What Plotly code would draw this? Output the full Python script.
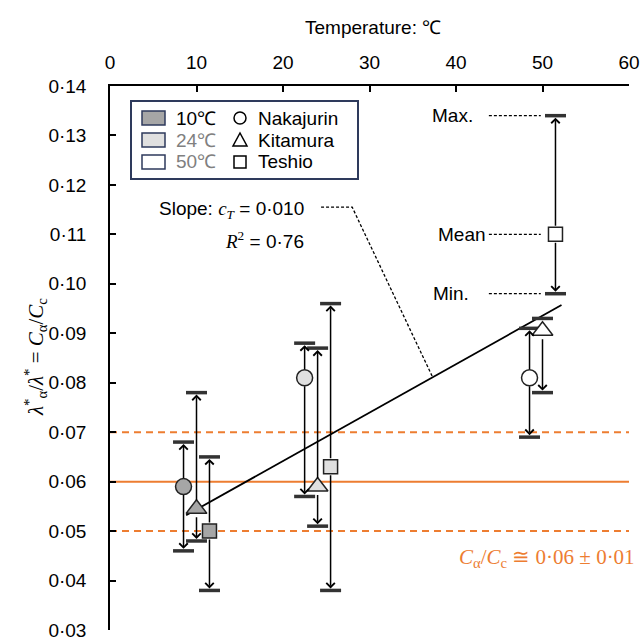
import plotly.graph_objects as go

# ---------------- data ----------------
temps = [10, 24, 50]
sites = ['Nakajurin', 'Kitamura', 'Teshio']
site_offset = [-1.5, 0.0, 1.5]
site_symbol = ['circle', 'triangle-up', 'square']
site_size = [16, 18, 14]

nak_mean = [0.059, 0.081, 0.081]
nak_max = [0.068, 0.088, 0.091]
nak_min = [0.046, 0.057, 0.069]

kit_mean = [0.0545, 0.059, 0.0905]
kit_max = [0.078, 0.087, 0.093]
kit_min = [0.048, 0.051, 0.078]

tes_mean = [0.050, 0.063, 0.110]
tes_max = [0.065, 0.096, 0.134]
tes_min = [0.038, 0.038, 0.098]

temp_fill = ['#A6A6A6', '#E0E0E0', '#FFFFFF']
temp_labels = ['10℃', '24℃', '50℃']
temp_label_colors = ['#000000', '#808080', '#808080']

trend_x = [8.8, 52.2]
trend_y = [0.0532, 0.0957]

ref_center = 0.06
ref_band = 0.01

x_ticks = [0, 10, 20, 30, 40, 50, 60]
y_ticks = [0.03, 0.04, 0.05, 0.06, 0.07, 0.08, 0.09, 0.10, 0.11, 0.12, 0.13, 0.14]
y_ticktext = ['0·03', '0·04', '0·05', '0·06', '0·07', '0·08', '0·09', '0·10',
              '0·11', '0·12', '0·13', '0·14']

means = [nak_mean, kit_mean, tes_mean]
maxs = [nak_max, kit_max, tes_max]
mins = [nak_min, kit_min, tes_min]

# ---------------- layout helpers ----------------
W, H = 641, 637
AX_L, AX_R, AX_T, AX_B = 110, 629, 86, 630   # plot area in pixels
PW, PH = AX_R - AX_L, AX_B - AX_T
ML, MT = AX_L, AX_T
MR, MB = W - ML - PW, H - MT - PH
SANS = 'Liberation Sans, Arial, sans-serif'
SERIF = 'Liberation Serif, Times New Roman, serif'
ORANGE = '#ED7D31'
NAVY = '#2E3A5C'
FS = 19


def px(x):
    return (x - AX_L) / PW


def py(y):
    return (AX_B - y) / PH


fig = go.Figure()

shapes = []
for val, dash in [(ref_center, 'solid'), (ref_center + ref_band, '7px,5px'),
                  (ref_center - ref_band, '7px,5px')]:
    shapes.append(dict(type='line', xref='paper', yref='y', x0=0, x1=1, y0=val, y1=val,
                       line=dict(color=ORANGE, width=2, dash=dash), layer='below'))

fig.add_trace(go.Scatter(x=trend_x, y=trend_y, mode='lines',
                         line=dict(color='black', width=1.8), showlegend=False,
                         hoverinfo='skip'))

annotations = []

for s in range(3):
    xs = [t + site_offset[s] for t in temps]
    fig.add_trace(go.Scatter(x=xs + xs, y=maxs[s] + mins[s], mode='markers',
                             marker=dict(symbol='line-ew', size=15,
                                         line=dict(color='#333333', width=3.5)),
                             showlegend=False, hoverinfo='skip'))
    for i in range(3):
        for cap in (maxs[s][i], mins[s][i]):
            annotations.append(dict(x=xs[i], y=cap, ax=xs[i], ay=means[s][i],
                                    xref='x', yref='y', axref='x', ayref='y',
                                    text='', showarrow=True, arrowhead=4, arrowsize=1.1,
                                    arrowwidth=1.5, arrowcolor='black',
                                    standoff=2, startstandoff=7))
    fig.add_trace(go.Scatter(x=xs, y=means[s], mode='markers', name=sites[s],
                             marker=dict(symbol=site_symbol[s], size=site_size[s],
                                         color=temp_fill,
                                         line=dict(color='#222222', width=1.5)),
                             showlegend=False))

lx = 37.3
ly = trend_y[0] + (trend_y[1] - trend_y[0]) * (lx - trend_x[0]) / (trend_x[1] - trend_x[0])
shapes.append(dict(type='path', xref='x', yref='y',
                   path=f'M 24.4,0.1155 L 28.0,0.1155 L {lx},{ly}',
                   line=dict(color='black', width=1.3, dash='3px,2px')))

tx = temps[2] + site_offset[2]
for val, lab, xr in [(tes_max[2], 'Max.', 42.2), (tes_mean[2], 'Mean', 43.7),
                     (tes_min[2], 'Min.', 41.7)]:
    shapes.append(dict(type='line', xref='x', yref='y', x0=tx - 7.7, x1=tx - 1.7,
                       y0=val, y1=val, line=dict(color='black', width=1.3, dash='3px,2px')))
    annotations.append(dict(x=xr, y=val, xref='x', yref='y', text=lab, showarrow=False,
                            xanchor='right', yanchor='middle',
                            font=dict(family=SANS, size=FS, color='black')))

annotations.append(dict(x=px(306), y=py(210), xref='paper', yref='paper',
                        text=f'Slope: <span style="font-family:{SERIF}"><i>c<sub>T</sub></i></span> = 0·010',
                        showarrow=False, xanchor='right', yanchor='middle',
                        font=dict(family=SANS, size=FS, color='black')))
annotations.append(dict(x=px(306), y=py(240), xref='paper', yref='paper',
                        text=f'<span style="font-family:{SERIF}"><i>R</i><sup>2</sup></span> = 0·76',
                        showarrow=False, xanchor='right', yanchor='middle',
                        font=dict(family=SANS, size=FS, color='black')))

annotations.append(dict(x=px(637), y=py(558), xref='paper', yref='paper',
                        text='<i>C</i><sub>α</sub>/<i>C</i><sub>c</sub> ≅ 0·06 ± 0·01',
                        showarrow=False, xanchor='right', yanchor='middle',
                        font=dict(family=SERIF, size=21, color=ORANGE)))

annotations.append(dict(x=px(35), y=py(357), xref='paper', yref='paper',
                        text='<i>λ</i><sup>*</sup><sub>α</sub>/<i>λ</i><sup>*</sup> = <i>C</i><sub>α</sub>/<i>C</i><sub>c</sub>',
                        showarrow=False, textangle=-90, xanchor='center', yanchor='middle',
                        font=dict(family=SERIF, size=21, color='black')))

annotations.append(dict(x=px(373), y=py(27), xref='paper', yref='paper',
                        text='Temperature: ℃', showarrow=False,
                        xanchor='center', yanchor='middle',
                        font=dict(family=SANS, size=FS, color='black')))

shapes.append(dict(type='rect', xref='paper', yref='paper', x0=px(131), x1=px(358),
                   y0=py(179), y1=py(101), line=dict(color=NAVY, width=2),
                   fillcolor='white'))
rows = [118, 140, 162]
for i in range(3):
    yc = rows[i]
    shapes.append(dict(type='rect', xref='paper', yref='paper', x0=px(142), x1=px(165),
                       y0=py(yc + 7), y1=py(yc - 7), line=dict(color=NAVY, width=1.5),
                       fillcolor=temp_fill[i]))
    annotations.append(dict(x=px(174), y=py(yc), xref='paper', yref='paper',
                            text=temp_labels[i], showarrow=False, xanchor='left',
                            yanchor='middle',
                            font=dict(family=SANS, size=FS, color=temp_label_colors[i])))
    annotations.append(dict(x=px(256), y=py(yc), xref='paper', yref='paper',
                            text=sites[i], showarrow=False, xanchor='left',
                            yanchor='middle', font=dict(family=SANS, size=FS, color='black')))
cx = 240
shapes.append(dict(type='circle', xref='paper', yref='paper', x0=px(cx - 6), x1=px(cx + 6),
                   y0=py(rows[0] + 6), y1=py(rows[0] - 6), line=dict(color='black', width=1.5)))
tri = f'M {px(cx - 7)},{py(rows[1] + 6)} L {px(cx + 7)},{py(rows[1] + 6)} L {px(cx)},{py(rows[1] - 7)} Z'
shapes.append(dict(type='path', xref='paper', yref='paper', path=tri,
                   line=dict(color='black', width=1.5)))
shapes.append(dict(type='rect', xref='paper', yref='paper', x0=px(cx - 6), x1=px(cx + 6),
                   y0=py(rows[2] + 6), y1=py(rows[2] - 6), line=dict(color='black', width=1.5)))

fig.update_layout(
    width=W, height=H,
    margin=dict(l=ML, r=MR, t=MT, b=MB, autoexpand=False),
    paper_bgcolor='white', plot_bgcolor='white',
    showlegend=False,
    shapes=shapes, annotations=annotations,
    font=dict(family=SANS, size=FS, color='black'),
    xaxis=dict(range=[0, 60], side='top', tickvals=x_ticks,
               ticktext=[str(v) for v in x_ticks],
               ticks='inside', ticklen=6, tickwidth=1.5, tickcolor='black',
               showline=True, linecolor='black', linewidth=1.5, showgrid=False,
               zeroline=False, mirror=False, ticklabelstandoff=8, automargin=False,
               ticklabeloverflow='allow', tickfont=dict(family=SANS, size=FS)),
    yaxis=dict(range=[0.03, 0.14], tickvals=y_ticks, ticktext=y_ticktext,
               ticks='inside', ticklen=6, tickwidth=1.5, tickcolor='black',
               showline=True, linecolor='black', linewidth=1.5, showgrid=False,
               zeroline=False, mirror=False, ticklabelstandoff=18, automargin=False,
               ticklabeloverflow='allow', tickfont=dict(family=SANS, size=FS)),
)

fig.write_html('out.html',
               config={'displayModeBar': False},
               post_script="document.body.style.margin='0';"
                           "document.documentElement.style.overflow='hidden';"
                           "document.body.style.overflow='hidden';")
